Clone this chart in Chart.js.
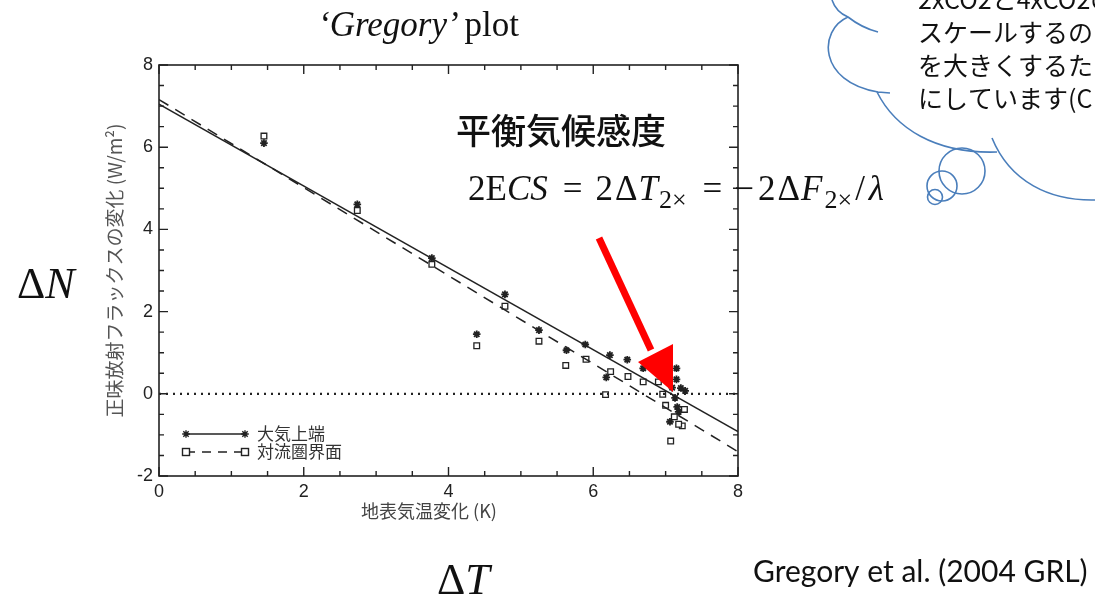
<!DOCTYPE html>
<html>
<head>
<meta charset="utf-8">
<script src="https://cdn.jsdelivr.net/npm/chart.js@4"></script>
<style>
  html, body { margin: 0; padding: 0; background: #fff; }
  canvas { display: block; }
</style>
</head>
<body>
<canvas id="gregoryChart" width="1095" height="597"></canvas>
<script>
// 大気上端 (TOA) の点
const toaX = [1.45, 2.74, 3.77, 4.78, 4.39, 5.25, 5.63, 5.89, 6.23, 6.18, 6.47, 6.69, 7.15, 7.15, 7.21, 7.27, 7.09, 7.13, 7.16, 7.06, 7.18];
const toaY = [6.10, 4.61, 3.30, 2.42, 1.45, 1.55, 1.06, 1.20, 0.94, 0.40, 0.83, 0.62, 0.62, 0.35, 0.14, 0.07, 0.15, -0.10, -0.32, -0.68, -0.44];

// 対流圏界面の点
const tropX = [1.45, 2.74, 3.77, 4.78, 4.39, 5.25, 5.62, 5.90, 6.17, 6.24, 6.48, 6.69, 6.90, 6.96, 7.00, 7.07, 7.26, 7.23, 7.18, 7.12];
const tropY = [6.27, 4.46, 3.15, 2.13, 1.17, 1.28, 0.69, 0.84, -0.02, 0.54, 0.42, 0.29, 0.29, -0.01, -0.28, -1.15, -0.38, -0.78, -0.74, -0.56];

// 回帰直線の端点
const fitX = [0, 8];
const toaFitY = [7.05, -0.92];
const tropFitY = [7.16, -1.41];
const zeroY = [0, 0];

const xTicks = [0, 2, 4, 6, 8];
const yTicks = [-2, 0, 2, 4, 6, 8];

const toPts = (xs, ys) => xs.map((x, i) => ({ x: x, y: ys[i] }));

const INK = '#222';
const JP = '"Noto Sans CJK JP", "Noto Sans", sans-serif';
const SERIF = '"Liberation Serif", "DejaVu Serif", serif';

// 連続したテキストを描く
function drawRuns(ctx, x, y, runs) {
  runs.forEach(r => {
    ctx.font = r.font;
    ctx.fillText(r.t, x, y + (r.dy || 0));
    x += ctx.measureText(r.t).width + (r.gap || 0);
  });
  return x;
}

// 枠と内向きの目盛り
const frameTicks = {
  id: 'frameTicks',
  afterDatasetsDraw(chart) {
    const ctx = chart.ctx;
    const a = chart.chartArea;
    const xs = chart.scales.x, ys = chart.scales.y;
    ctx.save();
    ctx.strokeStyle = INK;
    ctx.lineWidth = 1.6;
    ctx.strokeRect(a.left, a.top, a.right - a.left, a.bottom - a.top);
    ctx.lineWidth = 1.4;
    for (let v = 0; v <= 8.001; v += 0.5) {
      const len = (v % 2 === 0) ? 9 : 5;
      const px = xs.getPixelForValue(v);
      ctx.beginPath();
      ctx.moveTo(px, a.bottom); ctx.lineTo(px, a.bottom - len);
      ctx.moveTo(px, a.top); ctx.lineTo(px, a.top + len);
      ctx.stroke();
    }
    for (let v = -2; v <= 8.001; v += 0.5) {
      const len = (Math.abs(v) % 2 === 0) ? 9 : 5;
      const py = ys.getPixelForValue(v);
      ctx.beginPath();
      ctx.moveTo(a.left, py); ctx.lineTo(a.left + len, py);
      ctx.moveTo(a.right, py); ctx.lineTo(a.right - len, py);
      ctx.stroke();
    }

    // 凡例（図の中）
    const lx0 = a.left + 27, lx1 = a.left + 86;
    const ly1 = a.bottom - 42, ly2 = a.bottom - 24;
    ctx.lineWidth = 1.4;
    ctx.beginPath(); ctx.moveTo(lx0, ly1); ctx.lineTo(lx1, ly1); ctx.stroke();
    ctx.setLineDash([9, 7]);
    ctx.beginPath(); ctx.moveTo(lx0, ly2); ctx.lineTo(lx1, ly2); ctx.stroke();
    ctx.setLineDash([]);
    [lx0, lx1].forEach(x => {
      Chart.helpers.drawPoint(ctx, { pointStyle: 'star', radius: 3.8, borderWidth: 1.7 }, x, ly1);
      ctx.fillStyle = '#fff';
      ctx.fillRect(x - 3.5, ly2 - 3.5, 7, 7);
      ctx.strokeRect(x - 3.5, ly2 - 3.5, 7, 7);
    });
    ctx.fillStyle = '#333';
    ctx.font = '17px ' + JP;
    ctx.textBaseline = 'middle';
    ctx.fillText('大気上端', lx1 + 12, ly1);
    ctx.fillText('対流圏界面', lx1 + 12, ly2);

    // x 軸タイトル
    ctx.font = '18px ' + JP;
    ctx.fillStyle = '#444';
    ctx.textAlign = 'center';
    ctx.fillText('地表気温変化 (K)', 429, 511);
    ctx.restore();
  },
  afterDraw(chart) {
    const ctx = chart.ctx;
    ctx.save();
    ctx.fillStyle = '#111';
    ctx.textBaseline = 'alphabetic';

    // タイトル
    drawRuns(ctx, 318, 36, [
      { t: '‘Gregory’', font: 'italic 35px ' + SERIF, gap: 6 },
      { t: 'plot', font: '35px ' + SERIF }
    ]);

    // 平衡気候感度
    ctx.fillStyle = '#111';
    ctx.font = '500 35px ' + JP;
    ctx.fillText('平衡気候感度', 456, 144);

    // 式
    const big = '35px ' + SERIF, it = 'italic 35px ' + SERIF, sub = '26px ' + SERIF;
    drawRuns(ctx, 468, 200, [
      { t: '2E', font: big },
      { t: 'CS', font: it, gap: 15 },
      { t: '=', font: big, gap: 13 },
      { t: '2', font: big, gap: 2 },
      { t: 'Δ', font: big, gap: 1 },
      { t: 'T', font: it, gap: 1 },
      { t: '2×', font: sub, dy: 8, gap: 16 },
      { t: '=', font: big, gap: 12 },
      { t: '−', font: big, gap: 4 },
      { t: '2', font: big, gap: 2 },
      { t: 'Δ', font: big, gap: 1 },
      { t: 'F', font: it, gap: 2 },
      { t: '2×', font: sub, dy: 8, gap: 3 },
      { t: '/', font: big, gap: 4 },
      { t: 'λ', font: it }
    ]);

    // ΔN と ΔT
    drawRuns(ctx, 17, 298, [
      { t: 'Δ', font: '44px ' + SERIF },
      { t: 'N', font: 'italic 44px ' + SERIF }
    ]);
    drawRuns(ctx, 437, 594, [
      { t: 'Δ', font: '44px ' + SERIF },
      { t: 'T', font: 'italic 44px ' + SERIF }
    ]);

    // 出典
    ctx.font = '30px Lato, "Open Sans", sans-serif';
    ctx.fillText('Gregory et al. (2004 GRL)', 753, 582);

    // 赤い矢印
    ctx.strokeStyle = '#ff0000';
    ctx.fillStyle = '#ff0000';
    ctx.lineWidth = 7;
    ctx.beginPath(); ctx.moveTo(599, 238); ctx.lineTo(651, 350); ctx.stroke();
    ctx.beginPath();
    ctx.moveTo(673, 392);
    ctx.lineTo(638, 362);
    ctx.lineTo(673, 344);
    ctx.closePath();
    ctx.fill();

    // 吹き出し（雲）
    ctx.strokeStyle = '#4a7ebb';
    ctx.lineWidth = 1.6;
    ctx.beginPath();
    ctx.moveTo(832, 0); ctx.quadraticCurveTo(836, 12, 848, 17);
    ctx.quadraticCurveTo(862, 28, 878, 32);
    ctx.moveTo(848, 17); ctx.bezierCurveTo(818, 30, 818, 82, 878, 92);
    ctx.lineTo(890, 93);
    ctx.moveTo(877, 92); ctx.bezierCurveTo(895, 128, 935, 154, 997, 152);
    ctx.moveTo(992, 138); ctx.bezierCurveTo(1010, 182, 1050, 201, 1095, 200);
    ctx.stroke();
    [[962, 171, 23], [942, 186, 15], [935, 197, 7.5]].forEach(c => {
      ctx.beginPath(); ctx.arc(c[0], c[1], c[2], 0, Math.PI * 2); ctx.stroke();
    });

    ctx.fillStyle = '#111';
    ctx.font = '25px ' + JP;
    ctx.textBaseline = 'middle';
    ['2xCO2と4xCO2の', 'スケールするの', 'を大きくするた', 'にしています(C'].forEach((s, i) => {
      ctx.fillText(s, 918, -1 + i * 33);
    });
    ctx.restore();
  }
};

new Chart(document.getElementById('gregoryChart').getContext('2d'), {
  type: 'scatter',
  data: {
    datasets: [
      {
        label: '0 line',
        data: toPts(fitX, zeroY),
        showLine: true,
        borderColor: INK,
        borderWidth: 2.2,
        borderDash: [2, 5],
        pointRadius: 0
      },
      {
        label: '大気上端 fit',
        data: toPts(fitX, toaFitY),
        showLine: true,
        borderColor: INK,
        borderWidth: 1.5,
        pointRadius: 0
      },
      {
        label: '対流圏界面 fit',
        data: toPts(fitX, tropFitY),
        showLine: true,
        borderColor: INK,
        borderWidth: 1.5,
        borderDash: [11, 8],
        pointRadius: 0
      },
      {
        label: '対流圏界面',
        data: toPts(tropX, tropY),
        pointStyle: 'rect',
        pointRadius: 4,
        backgroundColor: '#fff',
        borderColor: INK,
        borderWidth: 1.3
      },
      {
        label: '大気上端',
        data: toPts(toaX, toaY),
        pointStyle: 'star',
        pointRadius: 3.8,
        borderColor: INK,
        borderWidth: 1.8
      }
    ]
  },
  options: {
    responsive: false,
    animation: false,
    layout: { padding: { left: 103, right: 357, top: 65, bottom: 71 } },
    plugins: {
      legend: { display: false },
      tooltip: { enabled: false }
    },
    scales: {
      x: {
        type: 'linear',
        min: 0,
        max: 8,
        afterFit: s => { s.height = 50; },
        afterBuildTicks: s => { s.ticks = xTicks.map(v => ({ value: v })); },
        grid: { display: false, drawTicks: false },
        border: { display: false },
        ticks: { padding: 5, color: '#222', font: { family: 'Liberation Sans, Arial', size: 18 } }
      },
      y: {
        type: 'linear',
        min: -2,
        max: 8,
        afterFit: s => { s.width = 56; },
        afterBuildTicks: s => { s.ticks = yTicks.map(v => ({ value: v })); },
        grid: { display: false, drawTicks: false },
        border: { display: false },
        title: {
          display: true,
          text: '正味放射フラックスの変化 (W/m²)',
          color: '#555',
          padding: { top: 0, bottom: 0 },
          font: { family: '"Noto Sans CJK JP", sans-serif', size: 19 }
        },
        ticks: { padding: 6, color: '#222', font: { family: 'Liberation Sans, Arial', size: 18 } }
      }
    }
  },
  plugins: [frameTicks]
});
</script>
</body>
</html>
